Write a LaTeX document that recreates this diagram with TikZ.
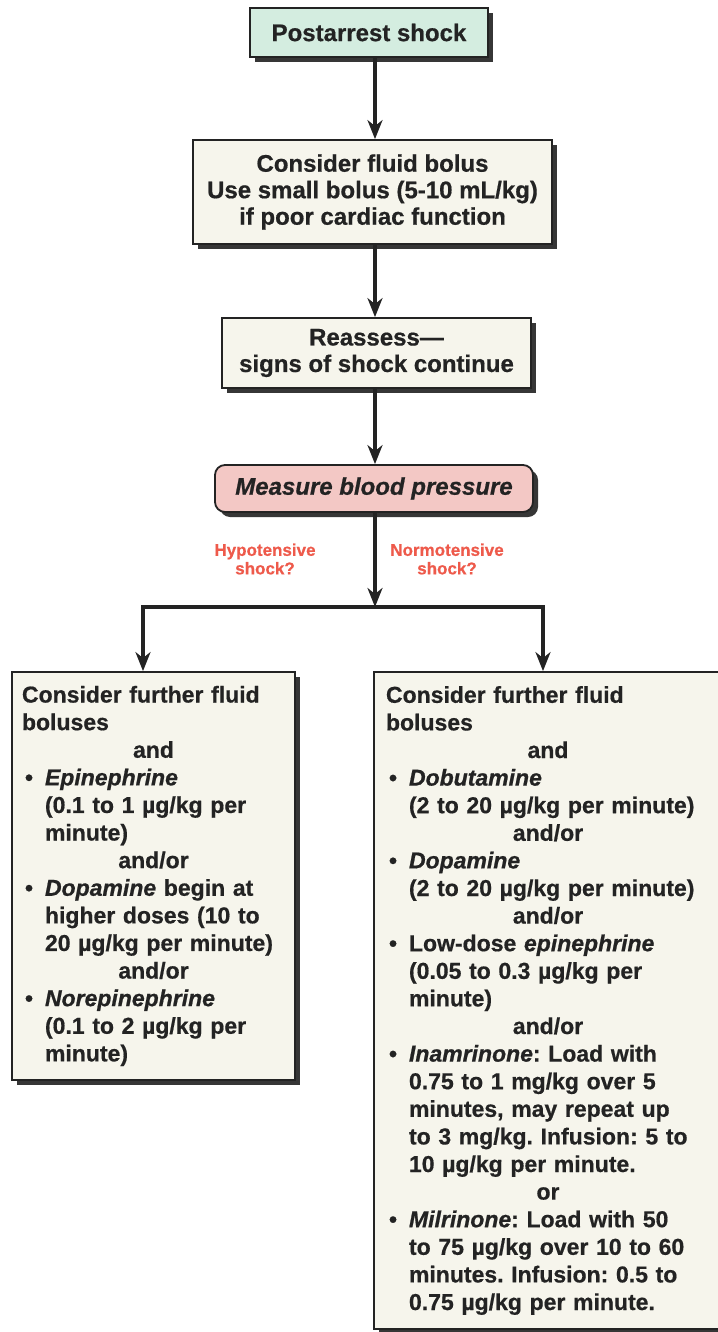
\documentclass[tikz,border=0pt]{standalone}
\usepackage{fontspec}
\setmainfont{Liberation Sans}[BoldFeatures={FakeBold=0.6},BoldItalicFeatures={FakeBold=0.8}]
\usetikzlibrary{arrows.meta,shadows}
\definecolor{ink}{HTML}{232323}
\definecolor{boxfill}{HTML}{F6F5EC}
\definecolor{greenfill}{HTML}{D4EDE0}
\definecolor{pinkfill}{HTML}{F3C8C5}
\definecolor{labred}{HTML}{EE5A4B}
\definecolor{shade}{HTML}{363636}
\newcommand\mybul{\makebox[23pt][l]{\hspace{3pt}•}}
\newcommand\myind{\hspace*{23pt}}
\newcommand\mycen[1]{\makebox[\linewidth]{#1}}
\newcommand\drug[1]{{\bfseries\itshape #1}}
\frenchspacing
\begin{document}
\begin{tikzpicture}[x=1pt,y=-1pt,
  card/.style={draw=ink, line width=1.8pt, fill=boxfill, inner sep=0pt, text=ink,
    drop shadow={fill=shade, opacity=1, shadow xshift=5pt, shadow yshift=-5pt}},
  bigtext/.style={font=\fontsize{24}{26.5}\selectfont\bfseries, align=center},
  listtext/.style={font=\fontsize{23}{27.6}\selectfont\bfseries\frenchspacing, align=left},
  lab/.style={text=labred, font=\fontsize{17}{18.5}\selectfont\bfseries, align=center},
  flow/.style={draw=ink, line width=3.4pt, -{Stealth[length=19pt,width=15pt,inset=6pt]}}]
\useasboundingbox (0,0) rectangle (717,1332);
\fill[white] (0,0) rectangle (717,1332);

\node[card, bigtext, fill=greenfill, minimum width=238pt, minimum height=49pt] (start) at (369,32.5) {Postarrest shock};
\node[card, bigtext, minimum width=359pt, minimum height=104pt] (fluid) at (372.5,192) {Consider fluid bolus\\Use small bolus (5-10 mL/kg)\\if poor cardiac function};
\node[card, bigtext, minimum width=309pt, minimum height=70pt] (reassess) at (376.5,353) {Reassess—\\signs of shock continue};
\node[card, bigtext, fill=pinkfill, rounded corners=10pt, minimum width=318pt, minimum height=47pt, font=\fontsize{24}{26.5}\selectfont\bfseries\itshape] (measure) at (374,488.5) {Measure blood pressure};

\node[lab] (hypo) at (265,559) {Hypotensive\\shock?};
\node[lab] (normo) at (447,559) {Normotensive\\shock?};

\node[card, listtext, minimum width=283pt, minimum height=408pt, text width=263pt] (left) at (153.5,876) {Consider further fluid\\
boluses\\
\mycen{and}\\
\mybul\drug{Epinephrine}\\
\myind(0.1 to 1 µg/kg per\\
\myind minute)\\
\mycen{and/or}\\
\mybul\drug{Dopamine} begin at\\
\myind higher doses (10 to\\
\myind 20 µg/kg per minute)\\
\mycen{and/or}\\
\mybul\drug{Norepinephrine}\\
\myind(0.1 to 2 µg/kg per\\
\myind minute)};

\node[card, listtext, minimum width=348pt, minimum height=657pt, text width=324pt] (right) at (548,1000.5) {Consider further fluid\\
boluses\\
\mycen{and}\\
\mybul\drug{Dobutamine}\\
\myind(2 to 20 µg/kg per minute)\\
\mycen{and/or}\\
\mybul\drug{Dopamine}\\
\myind(2 to 20 µg/kg per minute)\\
\mycen{and/or}\\
\mybul Low-dose \drug{epinephrine}\\
\myind(0.05 to 0.3 µg/kg per\\
\myind minute)\\
\mycen{and/or}\\
\mybul\drug{Inamrinone}: Load with\\
\myind 0.75 to 1 mg/kg over 5\\
\myind minutes, may repeat up\\
\myind to 3 mg/kg. Infusion: 5 to\\
\myind 10 µg/kg per minute.\\
\mycen{or}\\
\mybul\drug{Milrinone}: Load with 50\\
\myind to 75 µg/kg over 10 to 60\\
\myind minutes. Infusion: 0.5 to\\
\myind 0.75 µg/kg per minute.};

\coordinate (ax) at (375,0);
\coordinate (split) at (375,607);
\coordinate (splitL) at (143,607);
\coordinate (splitR) at (543,607);

\draw[flow] (start.south -| ax) -- (fluid.north -| ax);
\draw[flow] (fluid.south -| ax) -- (reassess.north -| ax);
\draw[flow] (reassess.south -| ax) -- (measure.north -| ax);
\draw[flow] (measure.south -| ax) -- (split);
\draw[flow] (splitR) -- (splitL) -- (left.north -| splitL);
\draw[flow] (splitL) -- (splitR) -- (right.north -| splitR);
\end{tikzpicture}
\end{document}
